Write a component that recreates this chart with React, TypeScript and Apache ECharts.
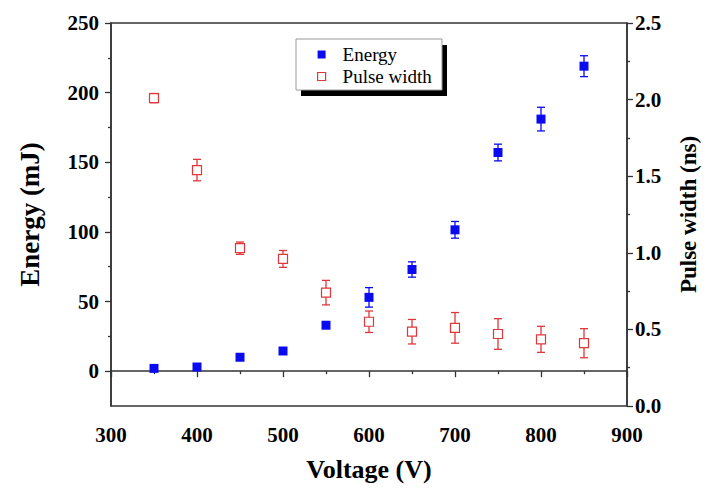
import React, { useEffect, useRef } from "react";
import * as echarts from "echarts";

const voltages = [350, 400, 450, 500, 550, 600, 650, 700, 750, 800, 850];
const energy = [2, 3, 10, 14.5, 33, 53, 73, 101.5, 157, 181, 219];
const energyErr = [1, 1, 1.5, 1.5, 2, 7, 5.5, 6, 6, 8.5, 7.5];
const pulseWidth = [2.01, 1.54, 1.03, 0.96, 0.74, 0.55, 0.485, 0.51, 0.47, 0.435, 0.41];
const pulseErr = [0.03, 0.07, 0.04, 0.055, 0.08, 0.07, 0.08, 0.1, 0.1, 0.085, 0.095];
const energyTicks = [0, 50, 100, 150, 200, 250];
const energyMinorTicks = [25, 75, 125, 175, 225];

const BLUE = "#0a0af0";
const RED = "#e0373a";
const FONT = "'Liberation Serif', 'Times New Roman', 'DejaVu Serif', serif";

function errorRender(color: string) {
  return (params: any, api: any) => {
    const x = api.value(0);
    const lo = api.coord([x, api.value(1)]);
    const hi = api.coord([x, api.value(2)]);
    const w = 4;
    const style = { stroke: color, lineWidth: 1.3 };
    return {
      type: "group",
      children: [
        { type: "line", shape: { x1: lo[0], y1: lo[1], x2: hi[0], y2: hi[1] }, style },
        { type: "line", shape: { x1: lo[0] - w, y1: lo[1], x2: lo[0] + w, y2: lo[1] }, style },
        { type: "line", shape: { x1: hi[0] - w, y1: hi[1], x2: hi[0] + w, y2: hi[1] }, style },
      ],
    };
  };
}

export default function App() {
  const ref = useRef<HTMLDivElement>(null);
  useEffect(() => {
    if (!ref.current) return;
    const chart = echarts.init(ref.current, undefined, { renderer: "svg" });
    const axisLine = { show: true, lineStyle: { color: "#333", width: 1.5 } };
    const tickStyle = { color: "#333", width: 1.3 };
    const labelStyle = { color: "#000", fontFamily: FONT, fontWeight: "bold" as const, fontSize: 21 };
    const nameStyle = { color: "#000", fontFamily: FONT, fontWeight: "bold" as const };
    chart.setOption({
      animation: false,
      backgroundColor: "#fff",
      grid: { left: 111, right: 94, top: 23, bottom: 84, show: true, borderColor: "#333", borderWidth: 1.5, backgroundColor: "transparent" },
      xAxis: {
        type: "value",
        min: 300,
        max: 900,
        interval: 100,
        name: "Voltage (V)",
        nameLocation: "middle",
        nameGap: 50,
        nameTextStyle: { ...nameStyle, fontSize: 26 },
        axisLine,
        axisTick: { show: true, length: 6, lineStyle: tickStyle },
        minorTick: { show: true, splitNumber: 2, length: 3, lineStyle: tickStyle },
        axisLabel: { ...labelStyle, margin: 18 },
        splitLine: { show: false },
      },
      yAxis: [
        {
          type: "value",
          position: "left",
          min: -25,
          max: 250,
          name: "Energy (mJ)",
          nameLocation: "middle",
          nameRotate: 90,
          nameGap: 68,
          nameTextStyle: { ...nameStyle, fontSize: 27 },
          axisLine,
          axisTick: { show: true, length: 6, lineStyle: tickStyle, customValues: energyTicks },
          axisLabel: { ...labelStyle, margin: 12, customValues: energyTicks },
          splitLine: { show: false },
        },
        {
          type: "value",
          position: "right",
          min: 0,
          max: 2.5,
          interval: 0.5,
          name: "Pulse width (ns)",
          nameLocation: "middle",
          nameRotate: 90,
          nameGap: 50,
          nameTextStyle: { ...nameStyle, fontSize: 23 },
          axisLine,
          axisTick: { show: true, length: 6, lineStyle: tickStyle },
          minorTick: { show: true, splitNumber: 2, length: 3, lineStyle: tickStyle },
          axisLabel: { ...labelStyle, margin: 8, formatter: (v: number) => v.toFixed(1) },
          splitLine: { show: false },
        },
        {
          type: "value",
          position: "left",
          min: -25,
          max: 250,
          axisLine: { show: false },
          axisTick: { show: true, length: 3, lineStyle: tickStyle, customValues: energyMinorTicks },
          axisLabel: { show: false, customValues: energyMinorTicks },
          splitLine: { show: false },
        },
      ],
      legend: {
        orient: "vertical",
        left: 312,
        top: 40,
        itemWidth: 8,
        itemHeight: 8,
        itemGap: 3,
        z: 10,
        textStyle: { fontFamily: FONT, fontSize: 19, color: "#000", padding: [0, 0, 0, 12] },
        data: [
          { name: "Energy", icon: "rect", itemStyle: { color: BLUE, borderWidth: 0 } },
          { name: "Pulse width", icon: "rect", itemStyle: { color: "#fff", borderColor: RED, borderWidth: 1.2 } },
        ],
      },
      graphic: [
        { type: "rect", z: 5, shape: { x: 301, y: 45, width: 146, height: 51 }, style: { fill: "#000" } },
        { type: "rect", z: 6, shape: { x: 296, y: 39, width: 146, height: 51 }, style: { fill: "#fff", stroke: "#999", lineWidth: 1 } },
      ],
      series: [
        {
          name: "EnergyErr",
          type: "custom",
          yAxisIndex: 0,
          z: 2,
          renderItem: errorRender(BLUE),
          data: voltages.map((v, i) => [v, energy[i] - energyErr[i], energy[i] + energyErr[i]]),
        },
        {
          name: "PulseErr",
          type: "custom",
          yAxisIndex: 1,
          z: 2,
          renderItem: errorRender(RED),
          data: voltages.map((v, i) => [v, pulseWidth[i] - pulseErr[i], pulseWidth[i] + pulseErr[i]]),
        },
        {
          name: "Energy",
          type: "scatter",
          yAxisIndex: 0,
          z: 3,
          symbol: "rect",
          symbolSize: 9,
          itemStyle: { color: BLUE, opacity: 1 },
          data: voltages.map((v, i) => [v, energy[i]]),
        },
        {
          name: "Pulse width",
          type: "scatter",
          yAxisIndex: 1,
          z: 3,
          symbol: "rect",
          symbolSize: 9,
          itemStyle: { color: "#fff", borderColor: RED, borderWidth: 1.2, opacity: 1 },
          data: voltages.map((v, i) => [v, pulseWidth[i]]),
        },
      ],
    });
    return () => chart.dispose();
  }, []);
  return <div ref={ref} style={{ position: "fixed", left: 0, top: 0, width: 721, height: 490 }} />;
}
